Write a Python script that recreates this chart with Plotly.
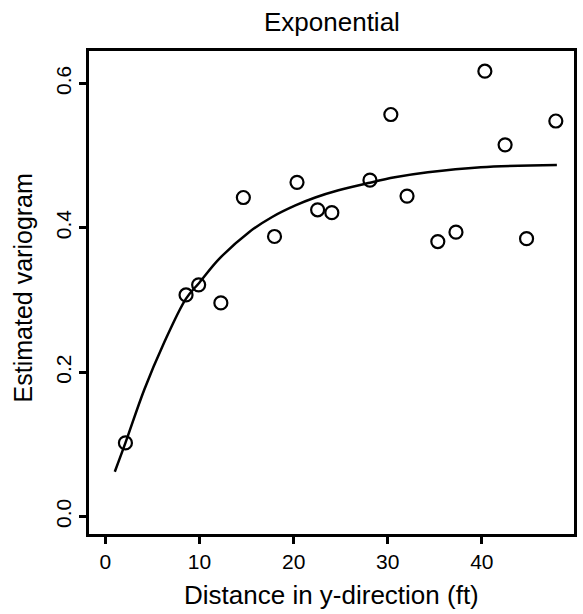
import plotly.graph_objects as go

# Empirical variogram points (lag distance, estimated semivariance)
lag_ft = [2.13, 8.57, 9.91, 12.27, 14.66, 17.97, 20.36, 22.55, 24.06,
          28.11, 30.33, 32.05, 35.32, 37.25, 40.32, 42.47, 44.75, 47.86]
gamma_hat = [0.102, 0.307, 0.321, 0.296, 0.442, 0.388, 0.463, 0.425, 0.421,
             0.466, 0.557, 0.444, 0.381, 0.394, 0.617, 0.515, 0.385, 0.548]

# Fitted exponential model curve
fit_x = [1.0, 2.13, 4.14, 6.14, 8.57, 9.98, 12.09, 15.26, 17.72,
         20.19, 22.30, 24.77, 27.93, 30.75, 34.26, 39.89, 47.97]
fit_y = [0.062, 0.102, 0.176, 0.238, 0.302, 0.324, 0.357, 0.394, 0.415,
         0.431, 0.442, 0.452, 0.462, 0.470, 0.477, 0.484, 0.487]

x_ticks = [0, 10, 20, 30, 40]
y_ticks = [0.0, 0.2, 0.4, 0.6]
y_tick_text = ["0.0", "0.2", "0.4", "0.6"]

FONT = "Liberation Sans, Arial, Helvetica, sans-serif"

fig = go.Figure()
fig.add_trace(go.Scatter(
    x=fit_x, y=fit_y, mode="lines",
    line=dict(color="black", width=2.5, shape="spline", smoothing=1.0),
    hoverinfo="skip", showlegend=False))
fig.add_trace(go.Scatter(
    x=lag_ft, y=gamma_hat, mode="markers",
    marker=dict(symbol="circle-open", size=13, color="black",
                line=dict(color="black", width=2.2)),
    showlegend=False))

fig.update_layout(
    width=583, height=614,
    margin=dict(l=89, r=6, t=51, b=80),
    paper_bgcolor="white", plot_bgcolor="white",
    font=dict(family=FONT, color="black", size=21),
    xaxis=dict(range=[-1.74, 49.79], tickvals=x_ticks, ticks="outside",
               ticklen=7, tickwidth=2.5, tickcolor="black",
               showgrid=False, zeroline=False, showline=True,
               linecolor="black", linewidth=2.5, mirror=True,
               tickfont=dict(size=21, family=FONT)),
    yaxis=dict(range=[-0.0242, 0.645], tickvals=y_ticks, ticktext=y_tick_text,
               ticks="outside", ticklen=7, tickwidth=2.5, tickcolor="black",
               tickangle=-90,
               showgrid=False, zeroline=False, showline=True,
               linecolor="black", linewidth=2.5, mirror=True,
               tickfont=dict(size=21, family=FONT)),
    annotations=[
        dict(text="Exponential", xref="paper", yref="paper",
             x=(333 - 89) / 488, y=1 + (51 - 22) / 483,
             xanchor="center", yanchor="middle", showarrow=False,
             font=dict(size=26, family=FONT)),
        dict(text="Distance in y-direction (ft)", xref="paper", yref="paper",
             x=(333 - 89) / 488, y=-(595 - 534) / 483,
             xanchor="center", yanchor="middle", showarrow=False,
             font=dict(size=26, family=FONT)),
        dict(text="Estimated variogram", xref="paper", yref="paper",
             x=-(89 - 23) / 488, y=(534 - 288) / 483, textangle=-90,
             xanchor="center", yanchor="middle", showarrow=False,
             font=dict(size=25, family=FONT)),
    ],
)

fig.write_html("out.html")
